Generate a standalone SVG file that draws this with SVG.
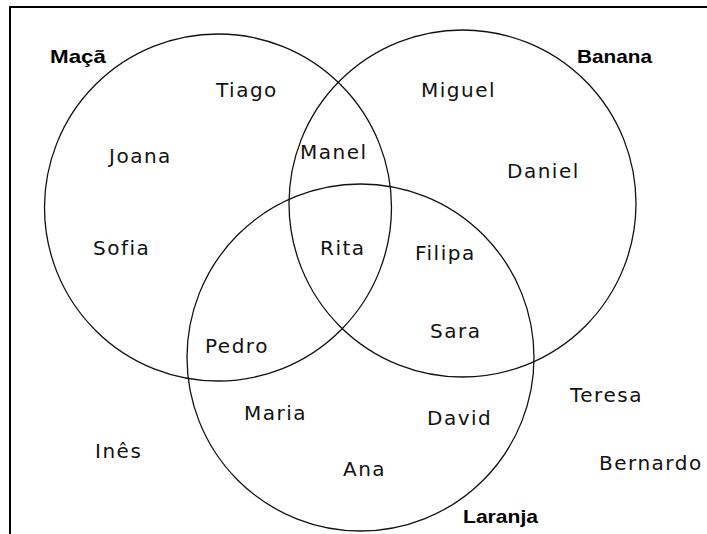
<svg xmlns="http://www.w3.org/2000/svg" width="707" height="534" viewBox="0 0 707 534">
<style>
.c{fill:none;stroke:#111;stroke-width:1.3}
.n{font-family:"DejaVu Sans",Verdana,sans-serif;font-size:20px;letter-spacing:1.5px;fill:#111}
.b{font-family:"Liberation Sans",Arial,sans-serif;font-size:19px;font-weight:bold;fill:#000}
</style>
<rect x="0" y="0" width="707" height="534" fill="#fff"/>
<path d="M10 534 V7 H707" fill="none" stroke="#000" stroke-width="2"/>
<g id="connectors"></g>
<g id="circle-maca"><circle class="c" cx="218" cy="207.5" r="173.5"/><text class="b" x="50" y="63" textLength="56" lengthAdjust="spacingAndGlyphs">Maçã</text></g>
<g id="circle-banana"><circle class="c" cx="462.5" cy="203.5" r="173.5"/><text class="b" x="577" y="63" textLength="75" lengthAdjust="spacingAndGlyphs">Banana</text></g>
<g id="circle-laranja"><circle class="c" cx="360.5" cy="357.5" r="173.5"/><text class="b" x="463" y="523" textLength="75" lengthAdjust="spacingAndGlyphs">Laranja</text></g>
<g id="tiago"><text class="n" x="216" y="97">Tiago</text></g>
<g id="miguel"><text class="n" x="421" y="97">Miguel</text></g>
<g id="joana"><text class="n" x="109" y="163">Joana</text></g>
<g id="manel"><text class="n" x="300" y="159">Manel</text></g>
<g id="daniel"><text class="n" x="507" y="178">Daniel</text></g>
<g id="sofia"><text class="n" x="93" y="255">Sofia</text></g>
<g id="rita"><text class="n" x="320" y="255">Rita</text></g>
<g id="filipa"><text class="n" x="415" y="260">Filipa</text></g>
<g id="sara"><text class="n" x="430" y="338">Sara</text></g>
<g id="pedro"><text class="n" x="205" y="353">Pedro</text></g>
<g id="maria"><text class="n" x="244" y="420">Maria</text></g>
<g id="david"><text class="n" x="427" y="425">David</text></g>
<g id="teresa"><text class="n" x="570" y="402">Teresa</text></g>
<g id="ines"><text class="n" x="95" y="458">Inês</text></g>
<g id="ana"><text class="n" x="343" y="476">Ana</text></g>
<g id="bernardo"><text class="n" x="599" y="470">Bernardo</text></g>
</svg>
